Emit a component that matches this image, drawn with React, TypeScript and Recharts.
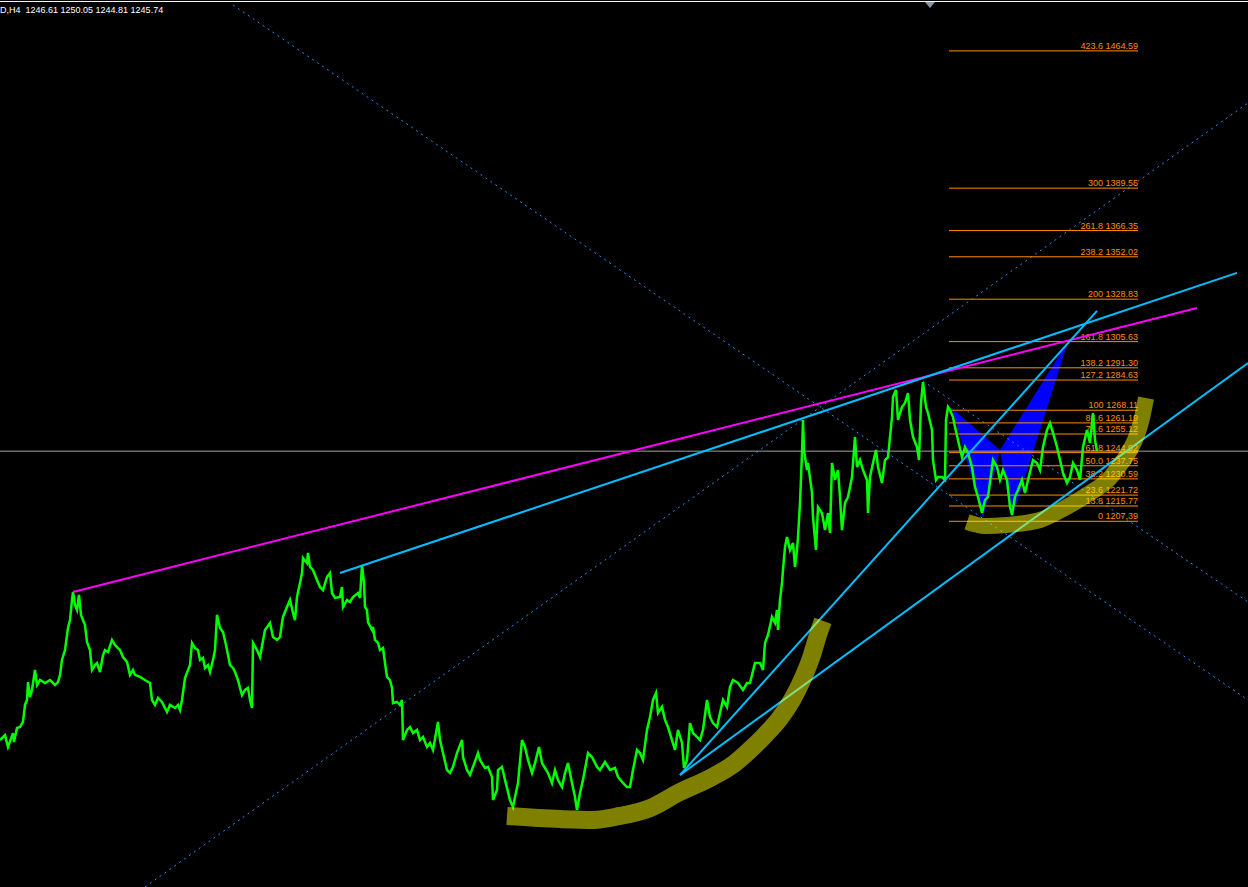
import React from 'react';
import { ComposedChart, Line, Area, XAxis, YAxis, ReferenceLine, ReferenceDot } from 'recharts';

const W = 1248;
const H = 887;
const PRICE_MIN = 1007.44;
const PRICE_MAX = 1492.41;

const headerText = 'D,H4  1246.61 1250.05 1244.81 1245.74';
const lastClose = 1245.74;

// bar position, close price
const priceTrace: [number, number][] = [
  [0, 1087.8], [5, 1090.5], [8, 1084.0], [13, 1091.6], [14, 1086.7], [17, 1094.4], [20, 1094.9], [23, 1097.7],
  [25, 1107.0], [27, 1109.7], [28, 1119.5], [30, 1111.3], [32, 1115.2], [35, 1126.1], [37, 1117.9], [40, 1120.6],
  [45, 1119.0], [50, 1120.6], [55, 1117.9], [58, 1119.5], [60, 1123.4], [62, 1131.6], [65, 1137.0], [68, 1149.1],
  [70, 1153.4], [72, 1164.4], [73, 1168.7], [75, 1161.6], [77, 1158.9], [79, 1167.1], [81, 1156.2], [85, 1150.7],
  [87, 1141.4], [90, 1137.0], [92, 1126.1], [95, 1128.8], [97, 1129.9], [100, 1125.0], [103, 1134.3], [105, 1137.0],
  [108, 1135.9], [112, 1142.5], [115, 1139.8], [118, 1138.1], [120, 1137.0], [123, 1133.2], [127, 1130.5], [130, 1123.4],
  [133, 1126.1], [135, 1123.4], [140, 1122.3], [145, 1120.6], [150, 1119.0], [152, 1109.7], [155, 1107.0], [158, 1110.8],
  [162, 1108.6], [165, 1105.3], [167, 1103.1], [170, 1107.0], [175, 1105.3], [178, 1107.0], [180, 1104.2], [182, 1109.7],
  [185, 1121.7], [190, 1128.8], [192, 1140.9], [195, 1138.1], [198, 1137.0], [200, 1131.6], [203, 1132.7], [205, 1127.2],
  [208, 1128.8], [210, 1125.0], [213, 1131.6], [215, 1137.0], [217, 1156.2], [220, 1149.1], [223, 1146.9], [226, 1139.8],
  [228, 1134.3], [230, 1128.8], [233, 1127.2], [235, 1125.0], [238, 1120.6], [240, 1116.3], [242, 1112.4], [245, 1115.2],
  [248, 1116.3], [250, 1109.7], [252, 1105.3], [253, 1140.9], [257, 1137.0], [260, 1133.2], [265, 1148.0], [270, 1151.8],
  [273, 1144.1], [277, 1142.5], [280, 1144.1], [282, 1151.8], [283, 1155.1], [287, 1160.5], [290, 1164.4], [293, 1157.3],
  [295, 1153.4], [297, 1166.0], [300, 1173.7], [302, 1179.1], [303, 1187.3], [307, 1184.6], [308, 1190.1], [310, 1182.4],
  [313, 1180.8], [317, 1175.3], [320, 1171.5], [323, 1169.8], [327, 1176.9], [330, 1179.1], [332, 1168.2], [335, 1165.5],
  [340, 1166.0], [342, 1171.5], [343, 1160.5], [347, 1164.4], [350, 1163.3], [353, 1166.0], [358, 1168.2], [360, 1165.5],
  [362, 1183.5], [364, 1173.7], [365, 1160.5], [367, 1158.9], [368, 1152.3], [372, 1148.0], [373, 1149.6], [375, 1142.5],
  [378, 1140.9], [380, 1137.0], [383, 1138.1], [385, 1129.9], [387, 1122.3], [390, 1120.6], [392, 1116.3], [393, 1108.0],
  [397, 1108.6], [400, 1107.0], [402, 1109.7], [403, 1087.8], [407, 1093.3], [410, 1094.9], [413, 1091.6], [417, 1093.3],
  [420, 1087.8], [423, 1089.5], [427, 1084.0], [430, 1086.2], [433, 1082.4], [438, 1097.7], [440, 1087.8], [443, 1080.7],
  [447, 1071.4], [450, 1069.8], [453, 1073.1], [457, 1080.7], [462, 1087.8], [463, 1078.5], [467, 1071.4], [470, 1068.7],
  [473, 1073.1], [478, 1080.7], [480, 1076.9], [485, 1072.5], [488, 1073.1], [492, 1067.6], [493, 1055.0], [497, 1060.5],
  [498, 1071.4], [502, 1073.1], [505, 1066.0], [510, 1055.0], [513, 1051.2], [515, 1056.7], [518, 1064.3], [522, 1087.8],
  [525, 1084.0], [528, 1076.9], [532, 1069.8], [535, 1075.2], [539, 1084.0], [542, 1075.2], [545, 1072.5], [548, 1069.8],
  [552, 1064.3], [555, 1071.4], [558, 1066.0], [562, 1062.1], [565, 1069.8], [568, 1075.2], [572, 1064.3], [575, 1056.7],
  [577, 1049.5], [580, 1058.8], [583, 1066.0], [588, 1080.7], [592, 1078.5], [597, 1073.1], [600, 1071.4], [605, 1075.8],
  [610, 1071.4], [615, 1072.5], [618, 1067.6], [623, 1064.3], [627, 1062.1], [630, 1062.1], [633, 1071.4], [637, 1082.4],
  [640, 1080.7], [643, 1076.9], [647, 1093.3], [650, 1100.4], [653, 1109.7], [656, 1113.5], [658, 1102.6], [662, 1105.9],
  [665, 1098.8], [668, 1094.9], [672, 1087.8], [675, 1082.4], [678, 1093.3], [682, 1086.2], [684, 1072.5], [687, 1076.9],
  [690, 1097.1], [693, 1091.6], [697, 1089.5], [700, 1087.8], [703, 1093.3], [707, 1109.7], [710, 1100.4], [713, 1097.1],
  [717, 1094.9], [720, 1102.6], [723, 1109.7], [727, 1105.9], [730, 1116.8], [733, 1120.6], [738, 1119.0], [743, 1115.2],
  [747, 1119.0], [750, 1119.0], [755, 1129.9], [760, 1129.9], [763, 1126.1], [765, 1140.9], [768, 1145.2], [772, 1155.1],
  [775, 1151.8], [777, 1158.9], [778, 1148.0], [780, 1164.4], [782, 1173.7], [783, 1180.8], [785, 1193.3], [787, 1198.8],
  [790, 1191.7], [793, 1195.5], [795, 1182.4], [797, 1191.7], [798, 1198.8], [800, 1217.4], [802, 1244.7], [803, 1262.8],
  [804, 1246.4], [807, 1235.4], [808, 1239.3], [812, 1222.9], [813, 1209.7], [816, 1191.7], [818, 1215.2], [822, 1211.9],
  [825, 1202.6], [828, 1211.9], [830, 1201.0], [832, 1239.3], [835, 1230.0], [838, 1235.4], [840, 1220.7], [842, 1202.6],
  [845, 1217.4], [848, 1220.7], [852, 1231.6], [855, 1253.5], [857, 1237.1], [860, 1240.9], [863, 1235.4], [867, 1230.0],
  [868, 1211.9], [870, 1231.6], [873, 1239.3], [876, 1246.4], [878, 1237.1], [882, 1228.3], [885, 1240.9], [888, 1242.5],
  [892, 1264.4], [893, 1275.4], [896, 1279.2], [898, 1262.8], [902, 1269.9], [905, 1272.1], [908, 1277.5], [910, 1262.8],
  [913, 1253.5], [917, 1248.0], [919, 1240.9], [921, 1272.1], [923, 1283.5], [926, 1269.9], [928, 1266.6], [932, 1257.3],
  [933, 1240.9], [936, 1230.0], [938, 1231.6], [942, 1231.6], [945, 1230.0], [946, 1262.8], [948, 1269.9], [950, 1268.2],
  [953, 1264.4], [955, 1259.0], [958, 1251.8], [962, 1242.5], [965, 1248.0], [968, 1244.7], [972, 1237.1], [975, 1226.1],
  [978, 1220.7], [982, 1211.9], [985, 1219.0], [988, 1220.7], [993, 1240.9], [997, 1237.1], [1000, 1230.0], [1003, 1235.4],
  [1007, 1230.0], [1010, 1215.2], [1012, 1210.8], [1015, 1220.7], [1018, 1224.5], [1022, 1230.0], [1025, 1222.9], [1028, 1230.0],
  [1033, 1240.9], [1037, 1239.3], [1040, 1235.4], [1043, 1248.0], [1047, 1257.3], [1050, 1261.1], [1053, 1255.7], [1057, 1248.0],
  [1060, 1240.9], [1063, 1233.8], [1067, 1228.3], [1070, 1231.6], [1073, 1239.3], [1077, 1235.4], [1080, 1230.0], [1083, 1248.0],
  [1087, 1257.3], [1090, 1250.2], [1093, 1266.6], [1095, 1251.8], [1097, 1245.7],
];

// trendlines: [start, end] as [bar, price]
const magentaLine: [number, number][] = [[73, 1168.7], [1197, 1324.0]];
const cyanLines: [number, number][][] = [
  [[340, 1179.1], [1237, 1343.2]],
  [[680, 1068.7], [1097, 1322.4]],
  [[680, 1068.7], [1248, 1293.9]],
];
const dottedLines: [number, number][][] = [
  [[145, 1007.44], [1248, 1436.1]],
  [[233, 1489.7], [1248, 1109.7]],
  [[923, 1284.1], [1248, 1163.3]],
];

// fibonacci extension
const fibRatios = ['423.6', '300', '261.8', '238.2', '200', '161.8', '138.2', '127.2', '100', '88.6', '78.6', '61.8', '50.0', '38.2', '23.6', '13.8', '0'];
const fibPrices = [1464.59, 1389.55, 1366.35, 1352.02, 1328.83, 1305.63, 1291.30, 1284.63, 1268.11, 1261.19, 1255.12, 1244.92, 1237.75, 1230.59, 1221.72, 1215.77, 1207.39];
const fibFrom = 949;
const fibTo = 1138;

// harmonic pattern triangles: bar, [low, high]
const patternXAB: [number, [number, number]][] = [[952, [1269.3, 1269.3]], [983, [1209.2, 1254.5]], [1000, [1246.4, 1246.4]]];
const patternBCD: [number, [number, number]][] = [[1000, [1246.4, 1246.4]], [1012, [1209.2, 1256.8]], [1068, [1305.6, 1305.6]]];

// hand drawn highlighter strokes
const highlightBase: [number, number][] = [
  [507, 1046.3], [560, 1044.6], [593, 1044.1], [620, 1046.3], [650, 1050.6], [680, 1059.4], [710, 1067.0], [735, 1075.2],
  [750, 1082.4], [765, 1090.5], [780, 1099.8], [792, 1109.7], [803, 1121.7], [812, 1134.3], [818, 1145.2], [823, 1152.9],
];
const highlightRecent: [number, number][] = [
  [967, 1207.0], [985, 1204.8], [1007, 1205.4], [1040, 1208.1], [1065, 1214.7], [1090, 1222.9], [1108, 1230.0], [1120, 1238.2],
  [1130, 1246.4], [1137, 1254.6], [1142, 1263.9], [1146, 1274.8],
];

const toPts = (arr: [number, number][]) => arr.map(([x, p]) => ({ x, p }));
const toRange = (arr: [number, [number, number]][]) => arr.map(([x, r]) => ({ x, r }));

const FONT = '"Liberation Sans", Arial, sans-serif';
const FIB = '#FF8C00';

const App = () => {
  return (
    <div style={{ position: 'absolute', left: 0, top: 0, width: W, height: H, background: '#000', overflow: 'hidden' }}>
      <ComposedChart width={W} height={H} margin={{ top: 0, right: 0, bottom: 0, left: 0 }}>
        <XAxis dataKey="x" type="number" domain={[0, W]} allowDataOverflow hide />
        <YAxis type="number" domain={[PRICE_MIN, PRICE_MAX]} allowDataOverflow hide />

        {/* chart frame + shift marker */}
        <ReferenceLine y={1491.6} stroke="#FFFFFF" strokeWidth={1} ifOverflow="visible" />
        <ReferenceDot
          x={930}
          y={1490.2}
          ifOverflow="visible"
          shape={(props: any) => (
            <polygon
              points={`${props.cx - 5},${props.cy - 2} ${props.cx + 5},${props.cy - 2} ${props.cx},${props.cy + 4}`}
              fill="#8497AA"
            />
          )}
        />

        {/* dotted projection lines */}
        {dottedLines.map((seg, i) => (
          <ReferenceLine
            key={`dot-${i}`}
            segment={[{ x: seg[0][0], y: seg[0][1] }, { x: seg[1][0], y: seg[1][1] }]}
            stroke="#1E90FF"
            strokeWidth={1}
            strokeDasharray="2 4"
            ifOverflow="visible"
          />
        ))}

        {/* fibonacci levels */}
        {fibPrices.map((p, i) => (
          <ReferenceLine
            key={`fib-${i}`}
            segment={[{ x: fibFrom, y: p }, { x: fibTo, y: p }]}
            stroke={FIB}
            strokeWidth={1}
            ifOverflow="visible"
            label={(props: any) => {
              const vb = props.viewBox || {};
              return (
                <text
                  x={(vb.x ?? 0) + (vb.width ?? 0)}
                  y={(vb.y ?? 0) - 2}
                  textAnchor="end"
                  fill={FIB}
                  fontSize={9}
                  fontFamily={FONT}
                >
                  {`${fibRatios[i]} ${p.toFixed(2)}`}
                </text>
              );
            }}
          />
        ))}

        {/* harmonic pattern */}
        <Area data={toRange(patternXAB)} dataKey="r" type="linear" stroke="none" fill="#0000FF" fillOpacity={1} isAnimationActive={false} />
        <Area data={toRange(patternBCD)} dataKey="r" type="linear" stroke="none" fill="#0000FF" fillOpacity={1} isAnimationActive={false} />

        {/* price */}
        <Line data={toPts(priceTrace)} dataKey="p" type="linear" stroke="#00FF00" strokeWidth={2.5} strokeLinejoin="miter" dot={false} activeDot={false} isAnimationActive={false} />

        {/* current price */}
        <ReferenceLine y={lastClose} stroke="#A0A0A0" strokeWidth={1} ifOverflow="visible" />

        {/* trendlines */}
        <Line data={toPts(magentaLine)} dataKey="p" type="linear" stroke="#FF00FF" strokeWidth={2} dot={false} activeDot={false} isAnimationActive={false} />
        {cyanLines.map((seg, i) => (
          <Line
            key={`cy-${i}`}
            data={toPts(seg)}
            dataKey="p"
            type="linear"
            stroke="#00BFFF"
            strokeWidth={2}
            dot={false}
            activeDot={false}
            isAnimationActive={false}
          />
        ))}

        {/* highlighter */}
        <Line data={toPts(highlightBase)} dataKey="p" type="monotone" stroke="#FFFF00" strokeOpacity={0.5} strokeWidth={18} strokeLinecap="butt" dot={false} activeDot={false} isAnimationActive={false} />
        <Line data={toPts(highlightRecent)} dataKey="p" type="monotone" stroke="#FFFF00" strokeOpacity={0.5} strokeWidth={16} strokeLinecap="butt" dot={false} activeDot={false} isAnimationActive={false} />
      </ComposedChart>
      <div
        style={{
          position: 'absolute',
          left: 0,
          top: 5,
          color: '#FFFFFF',
          fontFamily: FONT,
          fontSize: 9,
          lineHeight: '11px',
          whiteSpace: 'pre',
        }}
      >
        {headerText}
      </div>
    </div>
  );
};

export default App;
